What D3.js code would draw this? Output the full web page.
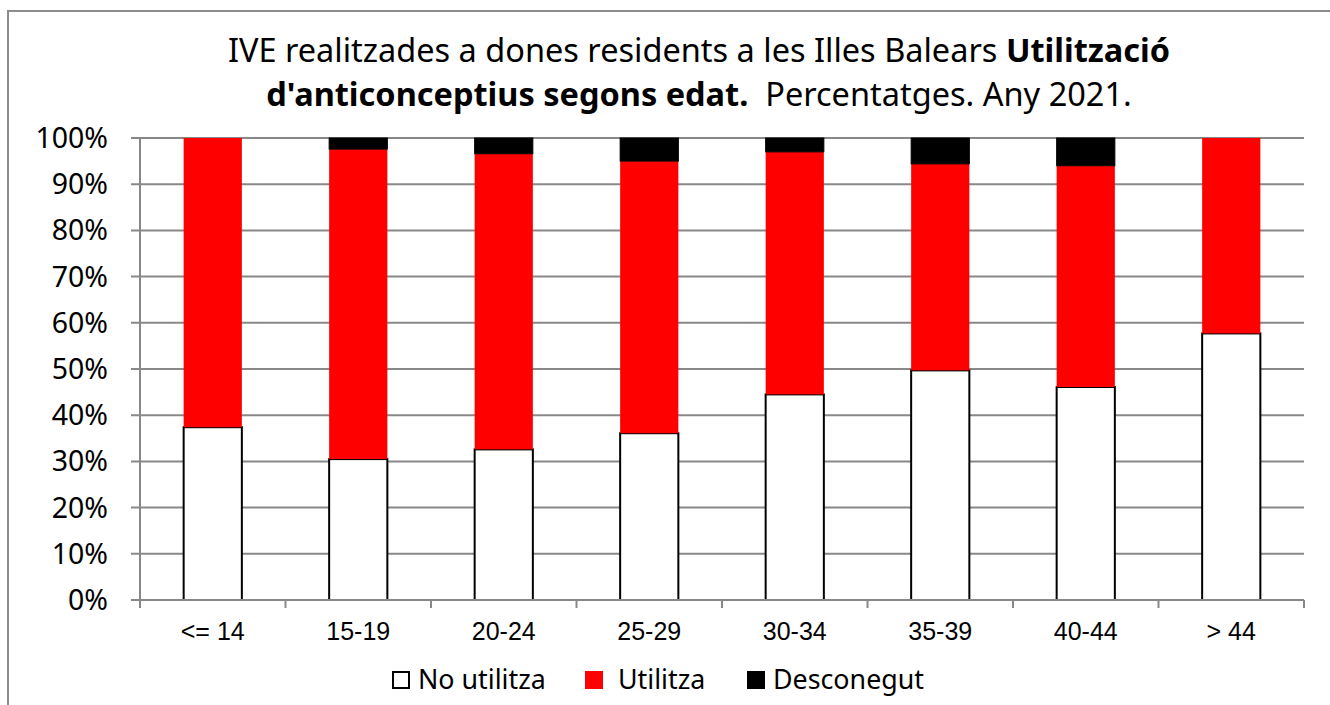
<!DOCTYPE html>
<html>
<head>
<meta charset="utf-8">
<script src="https://cdn.jsdelivr.net/npm/d3@7"></script>
<style>
  html, body { margin: 0; padding: 0; background: #fff; }
  svg { display: block; }
  text { white-space: pre; }
</style>
</head>
<body>
<script>
// Age groups and percentage shares of each contraception status
const categories = ["<= 14", "15-19", "20-24", "25-29", "30-34", "35-39", "40-44", "> 44"];
const noUtilitza = [37.4, 30.5, 32.6, 36.1, 44.5, 49.7, 46.1, 57.7];
const utilitza   = [62.6, 67.1, 64.0, 58.9, 52.5, 44.7, 47.9, 42.3];
const desconegut = [0.0, 2.4, 3.4, 5.0, 3.0, 5.6, 6.0, 0.0];
const yTicks = [0, 10, 20, 30, 40, 50, 60, 70, 80, 90, 100];

const seriesNames = ["No utilitza", "Utilitza", "Desconegut"];
const seriesFill = ["#ffffff", "#ff0000", "#000000"];
const seriesStroke = ["#000000", "none", "#000000"];

const W = 1330, H = 705;
const plot = { left: 140, right: 1304, top: 138, bottom: 600 };
const gridColor = "#888888";

const svg = d3.select("body").append("svg").attr("width", W).attr("height", H);

// Outer chart frame
svg.append("path")
  .attr("d", `M8,${H} L8,11 L${W},11`)
  .attr("fill", "none").attr("stroke", "#8c8c8c").attr("stroke-width", 2);

const x = d3.scaleBand().domain(categories)
  .range([plot.left, plot.right]).paddingInner(0.6).paddingOuter(0.3);
const y = d3.scaleLinear().domain([0, 100]).range([plot.bottom, plot.top]);

// Horizontal gridlines with small ticks left of the axis
svg.append("g").selectAll("line").data(yTicks).join("line")
  .attr("x1", plot.left - 9).attr("x2", plot.right)
  .attr("y1", d => y(d)).attr("y2", d => y(d))
  .attr("stroke", gridColor).attr("stroke-width", 2);

// Vertical value axis line
svg.append("line")
  .attr("x1", plot.left).attr("x2", plot.left)
  .attr("y1", y(100)).attr("y2", y(0))
  .attr("stroke", gridColor).attr("stroke-width", 2);

// Y tick labels
svg.append("g").selectAll("text").data(yTicks).join("text")
  .attr("x", 108).attr("y", d => y(d) + 10)
  .attr("text-anchor", "end")
  .attr("font-family", "'Noto Sans', sans-serif").attr("font-size", 28.5)
  .attr("fill", "#000")
  .text(d => d + "%");

// Category boundary ticks below the axis
const step = x.step();
const bounds = categories.map(c => x(c) - step * x.paddingOuter()).concat([plot.right]);
svg.append("g").selectAll("line").data(bounds).join("line")
  .attr("x1", d => d).attr("x2", d => d)
  .attr("y1", y(0)).attr("y2", y(0) + 8)
  .attr("stroke", gridColor).attr("stroke-width", 2);

// Stacked bars
const rows = categories.map((c, i) => ({
  cat: c, "No utilitza": noUtilitza[i], "Utilitza": utilitza[i], "Desconegut": desconegut[i]
}));
const stacked = d3.stack().keys(seriesNames)(rows);

stacked.forEach((layer, si) => {
  svg.append("g").selectAll("rect").data(layer.filter(d => d[1] - d[0] > 0)).join("rect")
    .attr("x", d => x(d.data.cat))
    .attr("width", x.bandwidth())
    .attr("y", d => y(d[1]))
    .attr("height", d => y(d[0]) - y(d[1]))
    .attr("fill", seriesFill[si])
    .attr("stroke", seriesStroke[si])
    .attr("stroke-width", si === 0 ? 2 : 1);
});

// Horizontal category axis line
svg.append("line")
  .attr("x1", plot.left).attr("x2", plot.right)
  .attr("y1", y(0)).attr("y2", y(0))
  .attr("stroke", gridColor).attr("stroke-width", 2);

// Category labels
svg.append("g").selectAll("text").data(categories).join("text")
  .attr("x", d => x(d) + x.bandwidth() / 2).attr("y", 640)
  .attr("text-anchor", "middle")
  .attr("font-family", "'Liberation Sans', Arial, sans-serif").attr("font-size", 25)
  .attr("fill", "#000")
  .text(d => d);

// Title
const title = svg.append("g")
  .attr("font-family", "'Noto Sans', sans-serif").attr("font-size", 32.5).attr("fill", "#000");
const t1 = title.append("text").attr("x", 699).attr("y", 62).attr("text-anchor", "middle");
t1.append("tspan").text("IVE realitzades a dones residents a les Illes Balears ");
t1.append("tspan").attr("font-weight", "bold").text("Utilització");
const t2 = title.append("text").attr("x", 699).attr("y", 106).attr("text-anchor", "middle");
t2.append("tspan").attr("font-weight", "bold").text("d'anticonceptius segons edat.");
t2.append("tspan").text("  Percentatges. Any 2021.");

// Legend
const legendX = [392, 585, 747];
const legend = svg.append("g").selectAll("g").data(seriesNames).join("g")
  .attr("transform", (d, i) => `translate(${legendX[i]},671)`);
legend.append("rect")
  .attr("x", (d, i) => i === 0 ? 1 : 0).attr("y", (d, i) => i === 0 ? 1 : 0)
  .attr("width", (d, i) => i === 0 ? 16 : 18).attr("height", (d, i) => i === 0 ? 16 : 18)
  .attr("fill", (d, i) => seriesFill[i])
  .attr("stroke", (d, i) => i === 0 ? "#000" : "none")
  .attr("stroke-width", 2);
legend.append("text")
  .attr("x", (d, i) => i === 1 ? 33 : 26).attr("y", 18)
  .attr("font-family", "'Noto Sans', sans-serif").attr("font-size", 26.8)
  .attr("fill", "#000")
  .text(d => d);
</script>
</body>
</html>
